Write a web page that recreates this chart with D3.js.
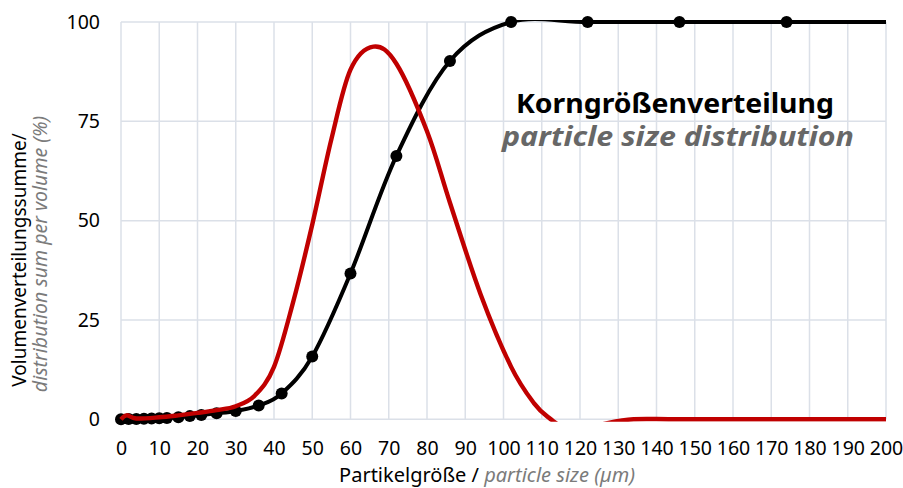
<!DOCTYPE html>
<html>
<head>
<meta charset="utf-8">
<script src="https://cdn.jsdelivr.net/npm/d3@7"></script>
<style>
  body { margin: 0; background: #fff; }
  svg { display: block; }
</style>
</head>
<body>
<svg width="903" height="488"></svg>
<script>
    // cumulative volume (black, with markers)
    let sizes = [0, 2, 4, 6, 8, 10, 12, 15, 18, 21, 25, 30, 36, 42, 50, 60, 72, 86, 102, 122, 146, 174, 200];
    let cumVolume = [0, 0.1, 0.1, 0.15, 0.2, 0.25, 0.3, 0.5, 0.8, 1.1, 1.5, 2.1, 3.5, 6.5, 15.8, 36.7, 66.3, 90.2, 100, 100, 100, 100, 100];
    let markedSizes = [0, 2, 4, 6, 8, 10, 12, 15, 18, 21, 25, 30, 36, 42, 50, 60, 72, 86, 102, 122, 146, 174];

    // distribution (red)
    let distSizes = [0, 1.5, 4, 10, 15, 20, 25, 30, 35, 40, 45, 50, 55, 60, 66, 72, 80, 86, 94, 102, 108, 112, 118, 126, 134, 146, 174, 200];
    let distValues = [0, 1, 0.2, 0.5, 1.0, 1.6, 2.3, 3.3, 6, 13.2, 29.5, 49, 70.5, 88, 93.8, 89.5, 72.5, 54.5, 31.5, 13.2, 4, 0.3, -3, -1.2, 0, 0, 0, 0];

    let xTicks = d3.range(0, 201, 10);
    let yTicks = [0, 25, 50, 75, 100];

    let margin = { top: 22, right: 17, bottom: 68, left: 121 };
    let width = 903;
    let height = 488;

    let svg = d3.select("svg");
    let font = "'Noto Sans', 'DejaVu Sans', sans-serif";

    let x = d3.scaleLinear()
        .domain([0, 200])
        .range([margin.left, width - margin.right]);

    let y = d3.scaleLinear()
        .domain([0, 100])
        .range([height - margin.bottom - 0.7, margin.top]);

    // grid
    let grid = svg.append("g");
    grid.selectAll(".vgrid")
        .data(xTicks)
        .join("line")
        .attr("x1", d => x(d)).attr("x2", d => x(d))
        .attr("y1", y(100)).attr("y2", y(0))
        .style("stroke", "#dbe0e8")
        .style("stroke-width", 1.5);
    grid.selectAll(".hgrid")
        .data(yTicks)
        .join("line")
        .attr("x1", x(0)).attr("x2", x(200))
        .attr("y1", d => y(d)).attr("y2", d => y(d))
        .style("stroke", "#dbe0e8")
        .style("stroke-width", 1.5);

    // axes (labels only)
    let xAxis = svg.append("g")
        .attr("transform", `translate(0, ${y(0)})`)
        .call(d3.axisBottom(x).tickValues(xTicks).tickSize(0).tickPadding(22));
    let yAxis = svg.append("g")
        .attr("transform", `translate(${margin.left}, 0)`)
        .call(d3.axisLeft(y).tickValues(yTicks).tickSize(0).tickPadding(21));
    [xAxis, yAxis].forEach(function (a) {
        a.select(".domain").remove();
        a.selectAll("text")
            .style("font-family", font)
            .style("font-size", "19.5px")
            .style("fill", "#000");
    });

    // title
    svg.append("text")
        .attr("x", 675).attr("y", 113)
        .attr("text-anchor", "middle")
        .attr("textLength", 318).attr("lengthAdjust", "spacingAndGlyphs")
        .style("font-family", font)
        .style("font-weight", "bold")
        .style("font-size", "26px")
        .style("fill", "#000")
        .text("Korngrößenverteilung");
    svg.append("text")
        .attr("x", 678).attr("y", 146)
        .attr("text-anchor", "middle")
        .attr("textLength", 352).attr("lengthAdjust", "spacingAndGlyphs")
        .style("font-family", font)
        .style("font-weight", "bold")
        .style("font-style", "italic")
        .style("font-size", "26px")
        .style("fill", "#676767")
        .text("particle size distribution");

    // axis titles
    let xTitle = svg.append("text")
        .attr("x", 487).attr("y", 482)
        .attr("text-anchor", "middle")
        .style("font-family", font)
        .style("font-size", "20px");
    xTitle.append("tspan").style("fill", "#000").text("Partikelgröße / ");
    xTitle.append("tspan").style("fill", "#7b7b7b").style("font-style", "italic").text("particle size (µm)");

    svg.append("text")
        .attr("transform", "translate(26, 260) rotate(-90)")
        .attr("text-anchor", "middle")
        .style("font-family", font)
        .style("font-size", "19px")
        .style("fill", "#000")
        .text("Volumenverteilungssumme/");
    svg.append("text")
        .attr("transform", "translate(47, 254) rotate(-90)")
        .attr("text-anchor", "middle")
        .style("font-family", font)
        .style("font-size", "19.5px")
        .style("font-style", "italic")
        .style("fill", "#7b7b7b")
        .text("distribution sum per volume (%)");

    // plot clip, a little wider than the plot area like the original
    svg.append("clipPath").attr("id", "plotclip")
        .append("rect")
        .attr("x", x(0) - 8).attr("y", y(100) - 2)
        .attr("width", x(200) - x(0) + 12)
        .attr("height", y(0) - y(100) + 4.5);

    let plot = svg.append("g").attr("clip-path", "url(#plotclip)");

    let line = d3.line()
        .x(d => x(d[0]))
        .y(d => y(d[1]))
        .curve(d3.curveCardinal.tension(0));

    plot.append("path")
        .datum(sizes.map((s, i) => [s, cumVolume[i]]))
        .attr("d", line)
        .style("fill", "none")
        .style("stroke", "#000")
        .style("stroke-width", 4)
        .style("stroke-linejoin", "round");

    svg.append("g")
        .selectAll("circle")
        .data(sizes.map((s, i) => [s, cumVolume[i]]).filter(d => markedSizes.indexOf(d[0]) >= 0))
        .join("circle")
        .attr("cx", d => x(d[0]))
        .attr("cy", d => y(d[1]))
        .attr("r", 6)
        .style("fill", "#000");

    // red series is drawn last, over the black markers
    svg.append("g").attr("clip-path", "url(#plotclip)")
        .append("path")
        .datum(distSizes.map((s, i) => [s, distValues[i]]))
        .attr("d", line)
        .style("fill", "none")
        .style("stroke", "#c00000")
        .style("stroke-width", 4.4)
        .style("stroke-linejoin", "round");
</script>
</body>
</html>
